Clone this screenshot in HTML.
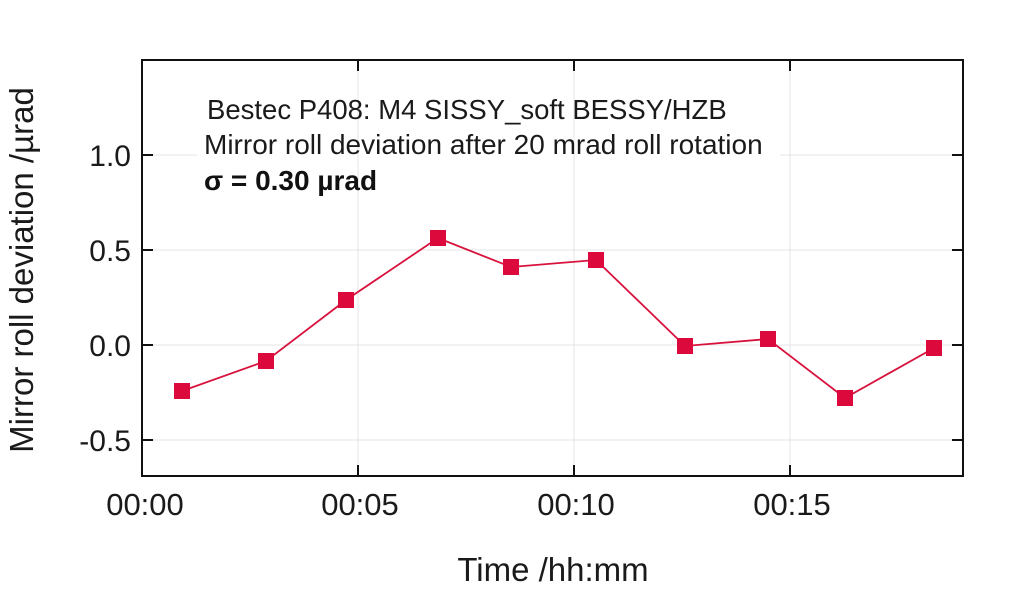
<!DOCTYPE html>
<html><head><style>body{margin:0;background:#fff}svg{display:block}text{font-family:"Liberation Sans",sans-serif;fill:#1a1a1a}</style></head><body>
<svg width="1024" height="589" viewBox="0 0 1024 589">
<g stroke="#e4e4e4" stroke-width="1">
<line x1="142" y1="250" x2="963" y2="250"/><line x1="142" y1="345" x2="963" y2="345"/><line x1="142" y1="440" x2="963" y2="440"/>
<line x1="142" y1="155" x2="197" y2="155"/><line x1="780" y1="155" x2="963" y2="155"/>
<line x1="358" y1="60" x2="358" y2="476"/><line x1="574" y1="60" x2="574" y2="476"/><line x1="790" y1="60" x2="790" y2="476"/>
</g>
<rect x="142" y="60" width="821" height="416" fill="none" stroke="#111" stroke-width="2"/>
<g stroke="#111" stroke-width="2">
<line x1="142" y1="155" x2="153" y2="155"/><line x1="142" y1="250" x2="153" y2="250"/><line x1="142" y1="345" x2="153" y2="345"/><line x1="142" y1="440" x2="153" y2="440"/>
<line x1="963" y1="155" x2="952" y2="155"/><line x1="963" y1="250" x2="952" y2="250"/><line x1="963" y1="345" x2="952" y2="345"/><line x1="963" y1="440" x2="952" y2="440"/>
<line x1="358" y1="476" x2="358" y2="465"/><line x1="574" y1="476" x2="574" y2="465"/><line x1="790" y1="476" x2="790" y2="465"/>
<line x1="358" y1="60" x2="358" y2="71"/><line x1="574" y1="60" x2="574" y2="71"/><line x1="790" y1="60" x2="790" y2="71"/>
</g>
<g font-size="30" text-anchor="end">
<text x="131" y="166">1.0</text><text x="131" y="261">0.5</text><text x="131" y="356">0.0</text><text x="131" y="451">-0.5</text>
</g>
<g font-size="31" text-anchor="middle">
<text x="145" y="515">00:00</text><text x="360" y="515">00:05</text><text x="576" y="515">00:10</text><text x="792" y="515">00:15</text>
<text x="553" y="581" font-size="33">Time /hh:mm</text>
<text transform="translate(33,270) rotate(-90)" font-size="33">Mirror roll deviation /µrad</text>
</g>
<text x="207" y="119" font-size="27.5">Bestec P408: M4 SISSY_soft BESSY/HZB</text>
<text x="204" y="154" font-size="28">Mirror roll deviation after 20 mrad roll rotation</text>
<text x="204" y="190" font-size="28" font-weight="bold" style="fill:#111">σ = 0.30 µrad</text>
<polyline fill="none" stroke="#d8123c" stroke-width="1.8" points="182,391 266,361 346,300 438,238 511,267 596,260 685,346 768,339 845,398 934,348"/>
<g fill="#dc0a3c">
<rect x="174" y="383" width="16" height="16"/><rect x="258" y="353" width="16" height="16"/><rect x="338" y="292" width="16" height="16"/><rect x="430" y="230" width="16" height="16"/><rect x="503" y="259" width="16" height="16"/><rect x="588" y="252" width="16" height="16"/><rect x="677" y="338" width="16" height="16"/><rect x="760" y="331" width="16" height="16"/><rect x="837" y="390" width="16" height="16"/><rect x="926" y="340" width="16" height="16"/>
</g>
</svg>
</body></html>
